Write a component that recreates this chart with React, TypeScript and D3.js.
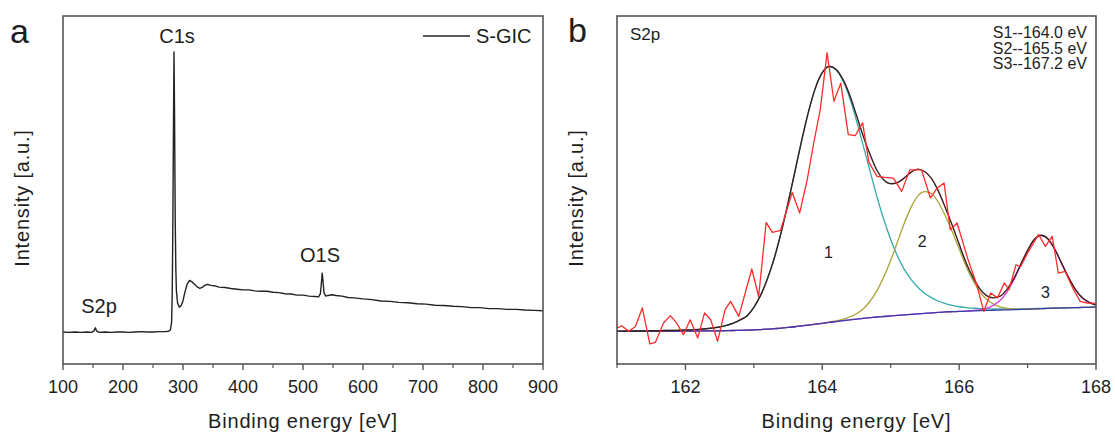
import React from "react";
import * as d3 from "d3";

// ---- panel a : survey spectrum ----
const surveyEnergy = [
  100, 110, 120, 130, 140, 148, 152, 154, 156, 160, 170, 180, 190, 200, 210, 220, 230, 240, 250, 260,
  270, 276, 279, 281, 282, 283, 284, 285, 286, 287, 288, 289, 291, 294, 297, 300, 303, 307, 311, 315,
  320, 325, 328, 332, 336, 341, 346, 352, 360, 370, 380, 390, 400, 410, 420, 430, 440, 450, 460, 470,
  480, 490, 500, 510, 520, 526, 529, 531, 532, 533, 535, 538, 542, 548, 555, 565, 575, 585, 600, 615,
  630, 645, 660, 675, 690, 705, 720, 735, 750, 765, 780, 795, 810, 825, 840, 855, 870, 885, 900,
];
const surveyIntensity = [
  9.2, 9.1, 9.2, 9.1, 9.2, 9.1, 9.6, 10.4, 9.5, 9.1, 9.2, 9.1, 9.2, 9.2, 9.1, 9.2, 9.3, 9.2, 9.2, 9.3,
  9.3, 9.4, 9.8, 12, 20, 38, 65, 89.7, 70, 42, 28, 21, 17.5, 16.3, 16.8, 18.2, 20.5, 23, 24, 23.6,
  22.8, 22.0, 21.75, 22.0, 22.6, 22.9, 22.6, 22.5, 22.1, 22.0, 21.7, 21.5, 21.3, 21.3, 21.0, 20.9, 20.9, 20.6, 20.5, 20.2,
  20.1, 19.8, 19.8, 19.5, 19.4, 19.3, 20.2, 24, 26.1, 24.5, 20.5, 19.5, 19.7, 19.9, 19.7, 19.5, 19.1, 19.0, 18.7, 18.5,
  18.1, 18.0, 17.7, 17.6, 17.3, 17.2, 16.9, 16.8, 16.6, 16.5, 16.2, 16.2, 15.9, 15.9, 15.7, 15.7, 15.5, 15.4, 15.3,
];
const surveyTicks = [100, 200, 300, 400, 500, 600, 700, 800, 900];
const surveyMinorTicks = [150, 250, 350, 450, 550, 650, 750, 850];

// ---- panel b : S2p high resolution ----
const s2pEnergy = [
  161.0, 161.07, 161.17, 161.27, 161.37, 161.48, 161.56, 161.68, 161.78, 161.87, 161.97, 162.07, 162.18,
  162.28, 162.37, 162.47, 162.58, 162.66, 162.78, 162.97, 163.07, 163.18, 163.27, 163.39, 163.56, 163.67,
  163.78, 163.87, 163.97, 164.07, 164.17, 164.27, 164.38, 164.48, 164.59, 164.68, 164.8, 164.92, 165.04,
  165.16, 165.28, 165.45, 165.58, 165.68, 165.78, 165.87, 165.97, 166.13, 166.25, 166.36, 166.46, 166.56,
  166.66, 166.73, 166.83, 166.9, 167.0, 167.16, 167.26, 167.36, 167.45, 167.55, 167.67, 167.77, 167.87, 167.99,
];
const s2pIntensity = [
  10.3, 11.0, 9.4, 10.8, 16.1, 5.8, 6.2, 11.8, 13.9, 11.8, 8.4, 12.7, 7.5,
  14.7, 12.7, 6.5, 15.6, 18.0, 13.7, 27.3, 19.4, 40.7, 37.8, 38.4, 49.3, 43.4,
  53.0, 63.0, 73.1, 89.4, 75.5, 80.7, 65.9, 65.6, 69.3, 58.0, 53.9, 53.6, 53.4,
  49.6, 55.8, 55.8, 47.7, 50.6, 52.0, 38.6, 40.5, 30.0, 23.3, 15.1, 20.4, 19.0,
  23.3, 21.4, 28.5, 28.0, 31.9, 37.2, 33.8, 36.7, 26.1, 26.6, 21.4, 18.0, 17.5, 17.5,
];
const fitEnergy = [
  161.0, 161.1, 161.2, 161.3, 161.4, 161.5, 161.6, 161.7, 161.8, 161.9,
  162.0, 162.1, 162.2, 162.3, 162.4, 162.5, 162.6, 162.7, 162.8, 162.9,
  163.0, 163.1, 163.2, 163.3, 163.4, 163.5, 163.6, 163.7, 163.8, 163.9,
  164.0, 164.1, 164.2, 164.3, 164.4, 164.5, 164.6, 164.7, 164.8, 164.9,
  165.0, 165.1, 165.2, 165.3, 165.4, 165.5, 165.6, 165.7, 165.8, 165.9,
  166.0, 166.1, 166.2, 166.3, 166.4, 166.5, 166.6, 166.7, 166.8, 166.9,
  167.0, 167.1, 167.2, 167.3, 167.4, 167.5, 167.6, 167.7, 167.8, 167.9, 168.0,
];
const fitBackground = [
  9.4, 9.4, 9.4, 9.4, 9.4, 9.4, 9.41, 9.42, 9.43, 9.44,
  9.45, 9.47, 9.49, 9.51, 9.53, 9.55, 9.58, 9.62, 9.67, 9.73,
  9.8, 9.9, 10.0, 10.15, 10.3, 10.5, 10.7, 10.95, 11.2, 11.45,
  11.7, 11.95, 12.2, 12.45, 12.7, 12.9, 13.1, 13.3, 13.5, 13.65,
  13.8, 13.95, 14.1, 14.25, 14.4, 14.55, 14.7, 14.83, 14.95, 15.03,
  15.1, 15.18, 15.25, 15.33, 15.4, 15.45, 15.5, 15.55, 15.6, 15.68,
  15.75, 15.83, 15.9, 15.98, 16.05, 16.1, 16.15, 16.2, 16.25, 16.3, 16.35,
];
const fitS1 = [
  0.05, 0.05, 0.1, 0.1, 0.1, 0.15, 0.15, 0.2, 0.2, 0.25,
  0.3, 0.35, 0.45, 0.6, 0.8, 1.1, 1.5, 2.1, 3.0, 4.1,
  6.5, 9.9, 14.6, 20.4, 27.6, 35.8, 44.6, 53.4, 61.4, 67.9,
  72.0, 73.5, 72.3, 69, 63.8, 57, 49.5, 42, 34.5, 27.8,
  22, 17, 13, 10, 7.6, 5.7, 4.3, 3.2, 2.4, 1.8,
  1.35, 1.0, 0.8, 0.6, 0.45, 0.35, 0.3, 0.25, 0.2, 0.15,
  0.1, 0.1, 0.1, 0.05, 0.05, 0.05, 0.05, 0, 0, 0, 0,
];
const fitS2 = [
  0, 0, 0, 0, 0, 0, 0, 0, 0, 0,
  0, 0, 0, 0, 0, 0, 0, 0, 0, 0,
  0, 0, 0, 0, 0, 0, 0, 0, 0, 0,
  0, 0.1, 0.2, 0.4, 0.8, 1.55, 2.8, 4.8, 7.6, 11.4,
  16, 21.2, 26.4, 30.9, 34, 35, 34.2, 31.5, 27.5, 23,
  18, 13, 8.8, 5.5, 3.2, 1.8, 0.9, 0.45, 0.2, 0.1,
  0, 0, 0, 0, 0, 0, 0, 0, 0, 0, 0,
];
const fitS3 = [
  0, 0, 0, 0, 0, 0, 0, 0, 0, 0,
  0, 0, 0, 0, 0, 0, 0, 0, 0, 0,
  0, 0, 0, 0, 0, 0, 0, 0, 0, 0,
  0, 0, 0, 0, 0, 0, 0, 0, 0, 0,
  0, 0, 0, 0, 0, 0, 0, 0, 0, 0,
  0, 0, 0.1, 0.25, 0.6, 1.4, 2.8, 5.2, 8.6, 12.7,
  16.8, 19.9, 21, 19.9, 16.8, 12.7, 8.6, 5.2, 2.8, 1.4, 0.6,
];
const s2pTicks = [162, 164, 166, 168];
const s2pMinorTicks = [161, 163, 165, 167];
const peakNotes = ["S1--164.0 eV", "S2--165.5 eV", "S3--167.2 eV"];

const FONT = '"Liberation Sans", Arial, sans-serif';
const INK = "#1e1e1e";
const TOP = 16;
const BOTTOM = 364;

type Box = { left: number; right: number };

const Frame = (props: {
  box: Box;
  x: d3.ScaleLinear<number, number>;
  ticks: number[];
  minor: number[];
  children?: React.ReactNode;
}) => {
  const { box, x, ticks, minor } = props;
  const mid = (box.left + box.right) / 2;
  return (
    <g>
      {props.children}
      <rect x={box.left} y={TOP} width={box.right - box.left} height={BOTTOM - TOP}
        fill="none" stroke="#555" strokeWidth={1.6} />
      {ticks.map((t) => (
        <g key={"t" + t}>
          <line x1={x(t)} x2={x(t)} y1={BOTTOM} y2={BOTTOM + 6} stroke="#555" strokeWidth={1.4} />
          <text x={x(t)} y={393} textAnchor="middle" fontSize={18} fontFamily={FONT} fill={INK}>{t}</text>
        </g>
      ))}
      {minor.map((t) => (
        <line key={"m" + t} x1={x(t)} x2={x(t)} y1={BOTTOM} y2={BOTTOM + 4} stroke="#555" strokeWidth={1.2} />
      ))}
      <text x={mid} y={428} textAnchor="middle" fontSize={20} letterSpacing={0.8} fontFamily={FONT} fill={INK}>
        Binding energy [eV]
      </text>
      <text transform={`translate(${box.left - 40},198) rotate(-90)`} textAnchor="middle" dy={6}
        fontSize={20} letterSpacing={0.8} fontFamily={FONT} fill={INK}>
        Intensity [a.u.]
      </text>
    </g>
  );
};

const App = () => {
  const boxA = { left: 63, right: 543 };
  const boxB = { left: 617, right: 1096 };
  const xA = d3.scaleLinear().domain([100, 900]).range([boxA.left, boxA.right]);
  const xB = d3.scaleLinear().domain([161, 168]).range([boxB.left, boxB.right]);
  const y = d3.scaleLinear().domain([0, 100]).range([BOTTOM, TOP]);

  const survey = d3.line<number>().x((d) => xA(d)).y((_, i) => y(surveyIntensity[i]));
  const raw = d3.line<number>().x((d) => xB(d)).y((_, i) => y(s2pIntensity[i]));

  const fitLine = (vals: number[]) =>
    d3.line<number>().curve(d3.curveMonotoneX).x((d) => xB(d)).y((_, i) => y(vals[i]))(fitEnergy) || "";

  const comp = (c: number[]) => fitBackground.map((b, i) => b + c[i]);
  const envelope = fitBackground.map((b, i) => b + fitS1[i] + fitS2[i] + fitS3[i]);
  const t = { fontFamily: FONT, fill: INK };

  return (
    <svg width={1115} height={436} style={{ position: "absolute", left: 0, top: 0, background: "#fff" }}>
      <Frame box={boxA} x={xA} ticks={surveyTicks} minor={surveyMinorTicks}>
        <path d={survey(surveyEnergy) || ""} fill="none" stroke="#222" strokeWidth={1.4} strokeLinejoin="round" />
      </Frame>
      <text x={10} y={43} fontSize={34} {...t}>a</text>
      <text x={177} y={43} textAnchor="middle" fontSize={20} {...t}>C1s</text>
      <text x={320} y={262} textAnchor="middle" fontSize={20} {...t}>O1S</text>
      <text x={99} y={313} textAnchor="middle" fontSize={20} {...t}>S2p</text>
      <line x1={423} x2={470} y1={36} y2={36} stroke="#222" strokeWidth={1.4} />
      <text x={476} y={43} fontSize={20} {...t}>S-GIC</text>

      <Frame box={boxB} x={xB} ticks={s2pTicks} minor={s2pMinorTicks}>
        <path d={fitLine(comp(fitS1))} fill="none" stroke="#35a9a9" strokeWidth={1.3} />
        <path d={fitLine(comp(fitS2))} fill="none" stroke="#aaa336" strokeWidth={1.3} />
        <path d={fitLine(comp(fitS3))} fill="none" stroke="#d83cd8" strokeWidth={1.3} />
        <path d={fitLine(fitBackground)} fill="none" stroke="#3b3ba8" strokeWidth={1.3} />
        <path d={fitLine(envelope)} fill="none" stroke="#3a1c1c" strokeWidth={1.4} />
        <path d={raw(s2pEnergy) || ""} fill="none" stroke="#ff2b2b" strokeWidth={1.3} strokeLinejoin="round" />
      </Frame>
      <text x={568} y={42} fontSize={34} {...t}>b</text>
      <text x={630} y={40} fontSize={17} {...t}>S2p</text>
      {peakNotes.map((n, i) => (
        <text key={n} x={1087} y={38 + i * 15.5} textAnchor="end" fontSize={16} {...t}>{n}</text>
      ))}
      <text x={xB(164.09)} y={y(32) + 5} textAnchor="middle" fontSize={16} {...t}>1</text>
      <text x={xB(165.46)} y={y(35.2) + 5} textAnchor="middle" fontSize={16} {...t}>2</text>
      <text x={xB(167.26)} y={y(20.5) + 5} textAnchor="middle" fontSize={16} {...t}>3</text>
    </svg>
  );
};

export default App;
